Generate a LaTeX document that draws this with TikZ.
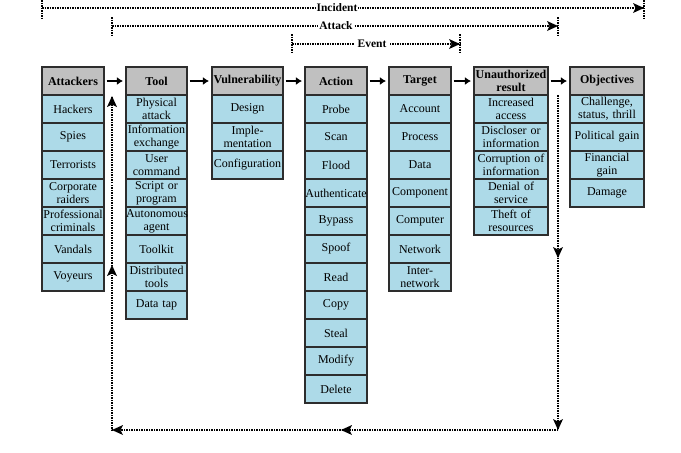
\documentclass[tikz,border=0pt]{standalone}
\usepackage{fontspec}
\setmainfont{Liberation Serif}
\usetikzlibrary{arrows.meta}
\definecolor{cellblue}{RGB}{173,218,232}
\definecolor{headgray}{RGB}{192,192,192}
\definecolor{edge}{RGB}{45,45,45}
\begin{document}
\begin{tikzpicture}[x=1pt,y=-1pt,
  box/.style={draw=edge, line width=1.1pt, minimum height=28pt, inner xsep=0pt, inner ysep=0pt,
    align=center, font=\fontsize{12}{12.8}\selectfont},
  cell/.style={box, fill=cellblue},
  head/.style={box, fill=headgray, font=\fontsize{12}{12.8}\selectfont\bfseries},
  wA/.style={text width=62pt, minimum width=62pt},
  wB/.style={text width=61pt, minimum width=61pt},
  wC/.style={text width=71pt, minimum width=71pt},
  wD/.style={text width=74pt, minimum width=74pt},
  flow/.style={line width=1.9pt, -{Latex[length=6pt,width=8pt]}, shorten <=2pt, shorten >=2.5pt},
  dotline/.style={line width=1.5pt, dash pattern=on 1.5pt off 1pt},
  lbl/.style={fill=white, inner sep=1pt, font=\fontsize{11.5}{12}\selectfont\bfseries}
]
\useasboundingbox (0,0) rectangle (681,453);

% Headers
\node[head,wA] (hAtt) at (73,81) {Attackers};
\node[head,wB] (hTool) at (156.5,81) {Tool};
\node[head,wC] (hVul) at (247.5,81) {Vulnerability};
\node[head,wA] (hAct) at (336,81) {Action};
\node[head,wA] (hTar) at (420,81) {Target};
\node[head,wD] (hRes) at (511,81) {Unauthorized\\result};
\node[head,wD] (hObj) at (607,81) {Objectives};

% Columns
\foreach [count=\i] \t in {Hackers,Spies,Terrorists,{Corporate\\raiders},{Professional\\criminals},Vandals,Voyeurs}
  \node[cell,wA] (att\i) at (73,{95+28*\i-14}) {\t};
\foreach [count=\i] \t in {{Physical\\attack},{Information\\exchange},{User\\command},{Script or\\program},{Autonomous\\agent},Toolkit,{Distributed\\tools},Data tap}
  \node[cell,wB] (tool\i) at (156.5,{95+28*\i-14}) {\t};
\foreach [count=\i] \t in {Design,{Imple-\\mentation},Configuration}
  \node[cell,wC] (vul\i) at (247.5,{95+28*\i-14}) {\t};
\foreach [count=\i] \t in {Probe,Scan,Flood,Authenticate,Bypass,Spoof,Read,Copy,Steal,Modify,Delete}
  \node[cell,wA] (act\i) at (336,{95+28*\i-14}) {\t};
\foreach [count=\i] \t in {Account,Process,Data,Component,Computer,Network,{Inter-\\network}}
  \node[cell,wA] (tar\i) at (420,{95+28*\i-14}) {\t};
\foreach [count=\i] \t in {{Increased\\access},{Discloser or\\information},{Corruption of\\information},{Denial of\\service},{Theft of\\resources}}
  \node[cell,wD] (res\i) at (511,{95+28*\i-14}) {\t};
\foreach [count=\i] \t in {{Challenge,\\status, thrill},Political gain,{Financial\\gain},Damage}
  \node[cell,wD] (obj\i) at (607,{95+28*\i-14}) {\t};

% Flow arrows
\draw[flow] (hAtt) -- (hTool);
\draw[flow] (hTool) -- (hVul);
\draw[flow] (hVul) -- (hAct);
\draw[flow] (hAct) -- (hTar);
\draw[flow] (hTar) -- (hRes);
\draw[flow] (hRes) -- (hObj);

% Feedback loop
\coordinate (fbTop) at (558,95);
\coordinate (fbR) at (558,258);
\coordinate (fbBR) at (558,430);
\coordinate (fbB) at (341,430);
\coordinate (fbBL) at (112,430);
\coordinate (fbL) at (112,265);
\coordinate (fbTL) at (112,96);
\draw[dotline] (fbTop) -- (fbBR) -- (fbBL) -- (fbTL);

% Incident / Attack / Event spans
\coordinate (incL) at (42,8);   \coordinate (incR) at (644,8);
\coordinate (incLt) at (42,0);  \coordinate (incLb) at (42,19);
\coordinate (incRt) at (644,0); \coordinate (incRb) at (644,19);
\coordinate (attL) at (112,26);  \coordinate (attR) at (558,26);
\coordinate (attLt) at (112,17); \coordinate (attLb) at (112,37);
\coordinate (attRt) at (558,17); \coordinate (attRb) at (558,37);
\coordinate (evL) at (292,44);  \coordinate (evR) at (460,44);
\coordinate (evLt) at (292,34); \coordinate (evLb) at (292,54);
\coordinate (evRt) at (460,34); \coordinate (evRb) at (460,54);

\draw[dotline] (incLt) -- (incLb);
\draw[dotline] (incRt) -- (incRb);
\draw[dotline] (attLt) -- (attLb);
\draw[dotline] (attRt) -- (attRb);
\draw[dotline] (evLt) -- (evLb);
\draw[dotline] (evRt) -- (evRb);
\draw[dotline] (incL) -- (incR);
\draw[dotline] (attL) -- (attR);
\draw[dotline] (evL) -- (evR);

% Arrowheads (filled, slightly concave)
\foreach \b/\ang in {fbR/270, fbBR/270, fbB/180, fbBL/180, fbL/90, fbTL/90, incR/0, attR/0, evR/0}
  \fill[black, shift={(\b)}, rotate=\ang] (0,0) -- (-11,5) -- (-8.5,0) -- (-11,-5) -- cycle;

\node[lbl] (incLbl) at (337,8) {Incident};
\node[lbl] (attLbl) at (336,26) {Attack};
\node[lbl, inner xsep=4pt] (evLbl) at (372,44) {Event};
\end{tikzpicture}
\end{document}
